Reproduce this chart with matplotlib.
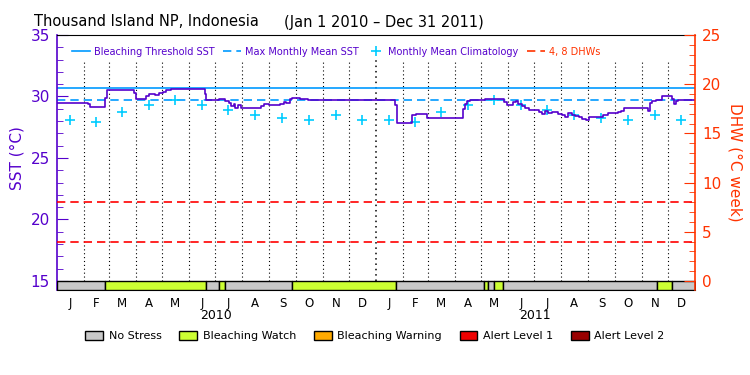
import numpy as np
import matplotlib
matplotlib.use('Agg')
import matplotlib.pyplot as plt
import matplotlib.dates as mdates
from matplotlib.ticker import MultipleLocator
from matplotlib.patches import Patch
from matplotlib.lines import Line2D

purple = '#5500cc'
orange = '#ff3300'
blue = '#0099ff'
cyan = '#00ccff'

# daily SST (date, value)
sst_dates = ['2010-01-01', '2010-02-05', '2010-02-08', '2010-02-25', '2010-02-27', '2010-03-30',
             '2010-04-01', '2010-04-13', '2010-04-16', '2010-04-23', '2010-04-28', '2010-05-02',
             '2010-05-06', '2010-05-12', '2010-06-19', '2010-06-21', '2010-07-05', '2010-07-12',
             '2010-07-17', '2010-07-19', '2010-07-22', '2010-07-24', '2010-07-27', '2010-07-30',
             '2010-08-22', '2010-08-26', '2010-09-01', '2010-09-13', '2010-09-18', '2010-09-20',
             '2010-09-22', '2010-09-25', '2010-09-27', '2010-10-06', '2010-10-15',
             '2011-01-23', '2011-01-25', '2011-02-11', '2011-02-16', '2011-02-28', '2011-04-10',
             '2011-04-13', '2011-04-15', '2011-04-18', '2011-04-28', '2011-05-06', '2011-05-13',
             '2011-05-17', '2011-05-28', '2011-05-31', '2011-06-07', '2011-06-10', '2011-06-13',
             '2011-06-17', '2011-06-21', '2011-06-25', '2011-07-06', '2011-07-10', '2011-07-13',
             '2011-07-17', '2011-07-21', '2011-07-28', '2011-08-02', '2011-08-05', '2011-08-09',
             '2011-08-13', '2011-08-17', '2011-08-21', '2011-08-25', '2011-08-29', '2011-09-02',
             '2011-09-06', '2011-09-18', '2011-09-24', '2011-10-01', '2011-10-05', '2011-10-08',
             '2011-10-12', '2011-11-08', '2011-11-10', '2011-11-13', '2011-11-17', '2011-11-24',
             '2011-12-06', '2011-12-08', '2011-12-10', '2011-12-13', '2012-01-01']
sst_vals = [29.50, 29.35, 29.18, 29.90, 30.49, 30.30,
            29.78, 30.00, 30.18, 30.10, 30.25, 30.35,
            30.54, 30.62, 30.20, 29.72, 29.80, 29.67,
            29.45, 29.23, 29.35, 29.10, 29.30, 29.10,
            29.25, 29.39, 29.29, 29.39, 29.59, 29.45,
            29.50, 29.78, 29.88, 29.80, 29.75,
            29.30, 27.82, 28.47, 28.55, 28.22, 28.96,
            29.40, 29.64, 29.69, 29.72, 29.83, 29.76,
            29.83, 29.56, 29.31, 29.56, 29.64, 29.36,
            29.23, 29.10, 28.88, 28.74, 28.60, 28.78,
            28.62, 28.70, 28.60, 28.47, 28.36, 28.66,
            28.50, 28.42, 28.30, 28.14, 28.09, 28.33,
            28.36, 28.50, 28.69, 28.62, 28.74, 28.82,
            29.10, 28.82, 29.45, 29.64, 29.72, 30.00,
            29.80, 29.37, 29.64, 29.72, 29.72]

mmm = 29.72
threshold = 30.72
clim_vals = [28.09, 27.92, 28.77, 29.31, 29.72, 29.31, 28.90, 28.52, 28.25, 28.09, 28.47, 28.09]
dhw_levels = [4, 8]

stress_breaks = ['2010-01-01', '2010-02-25', '2010-06-21', '2010-07-05', '2010-07-12', '2010-09-27',
                 '2011-01-24', '2011-05-05', '2011-05-09', '2011-05-16', '2011-05-26', '2011-11-18',
                 '2011-12-06', '2012-01-01']
stress_level = [0, 1, 0, 1, 0, 1, 0, 1, 0, 1, 0, 1, 0]
stress_names = ['No Stress', 'Bleaching Watch', 'Bleaching Warning', 'Alert Level 1', 'Alert Level 2']
stress_colors = ['#c8c8c8', '#ccff33', '#ffaa00', '#ee0000', '#990000']

month_letters = ['J', 'F', 'M', 'A', 'M', 'J', 'J', 'A', 'S', 'O', 'N', 'D']
years = ['2010', '2011']

month_starts = np.arange(np.datetime64('2010-01'), np.datetime64('2012-02'), np.timedelta64(1, 'M')).astype('datetime64[D]')
month_mid = month_starts[:-1] + (month_starts[1:] - month_starts[:-1]) / 2
mstart = mdates.date2num(month_starts)
mmid = mdates.date2num(month_mid)

fig = plt.figure(figsize=(7.5, 3.75), dpi=100)
ax = fig.add_axes([57 / 750, 1 - 290 / 375, 638 / 750, 255 / 375])
ax.set_xlim(mstart[0], mstart[24])
ax.set_ylim(14.265, 35)
ax2 = ax.twinx()
ax2.set_ylim(-0.918, 25)

# month grid, kept clear of the legend row
for i, x in enumerate(mstart[1:24], start=1):
    ax.plot([x, x], [15, 33], color='k', lw=1.1 if i == 12 else 0.8, ls=(0, (1, 2.5)), zorder=1)

ax.axhline(threshold, color=blue, lw=1.2, zorder=2)
ax.axhline(mmm, color=blue, lw=1.2, ls=(0, (5, 3)), zorder=2)
for lv in dhw_levels:
    ax2.axhline(lv, color='#ff0000', lw=1.2, ls=(0, (5, 3)))

ax.plot(mmid, clim_vals * 2, ls='none', marker='+', ms=7, mew=1.2, color=cyan, zorder=3)
sd = mdates.date2num(np.array(sst_dates, dtype='datetime64[D]'))
ax.step(sd, sst_vals, where='post', color=purple, lw=1.2, zorder=4)

sb = mdates.date2num(np.array(stress_breaks, dtype='datetime64[D]'))
for a, b, lv in zip(sb[:-1], sb[1:], stress_level):
    ax.broken_barh([(a, b - a)], (14.265, 0.735), facecolors=stress_colors[lv], edgecolors='k', lw=1, zorder=5)

ax.spines['left'].set_color(purple)
ax.spines['right'].set_visible(False)
for s in ['left', 'top', 'bottom']:
    ax2.spines[s].set_visible(False)
ax2.spines['right'].set_color(orange)
ax.spines['left'].set_linewidth(1.2)
ax2.spines['right'].set_linewidth(1.2)

ax.yaxis.set_major_locator(MultipleLocator(5))
ax.yaxis.set_minor_locator(MultipleLocator(1))
ax.tick_params(axis='y', which='both', direction='in', colors=purple, labelsize=11, pad=5)
ax.tick_params(axis='y', which='major', length=8)
ax.tick_params(axis='y', which='minor', length=4)
ax2.yaxis.set_major_locator(MultipleLocator(5))
ax2.yaxis.set_minor_locator(MultipleLocator(1))
ax2.tick_params(axis='y', which='both', direction='in', colors=orange, labelsize=11, pad=5)
ax2.tick_params(axis='y', which='major', length=8)
ax2.tick_params(axis='y', which='minor', length=4)

ax.set_xticks(mmid[:24])
ax.set_xticklabels(month_letters * 2, fontsize=8.5)
ax.tick_params(axis='x', length=0, pad=5)
for k, yr in enumerate(years):
    ax.text(mdates.date2num(np.datetime64(yr + '-07-02')), -0.1, yr, transform=ax.get_xaxis_transform(),
            ha='center', va='center', fontsize=9)

fig.text(259 / 750, 1 - 22 / 375, 'Thousand Island NP, Indonesia', fontsize=10.5, va='center', ha='right')
fig.text(284 / 750, 1 - 22 / 375, '(Jan 1 2010 \u2013 Dec 31 2011)', fontsize=10.5, va='center', ha='left')
fig.text(17 / 750, 1 - 158 / 375, 'SST (\u00b0C)', rotation=90, color=purple, fontsize=11, ha='center', va='center')
fig.text(735 / 750, 1 - 162 / 375, 'DHW (\u00b0C week)', rotation=270, color=orange, fontsize=11, ha='center', va='center')

handles = [Line2D([], [], color=blue, lw=1.2),
           Line2D([], [], color=blue, lw=1.2, ls=(0, (5, 3))),
           Line2D([], [], color=cyan, ls='none', marker='+', ms=7, mew=1.2),
           Line2D([], [], color='#ff3300', lw=1.2, ls=(0, (5, 3)))]
labels = ['Bleaching Threshold SST', 'Max Monthly Mean SST', 'Monthly Mean Climatology', '4, 8 DHWs']
ax2.legend(handles, labels, loc='upper left', bbox_to_anchor=(0.012, 0.985), ncol=4, frameon=False,
           fontsize=7, handlelength=1.8, columnspacing=0.9, handletextpad=0.4,
           labelcolor=[purple, purple, purple, orange], borderaxespad=0.4)

sh = [Patch(facecolor=c, edgecolor='k', lw=1) for c in stress_colors]
fig.legend(sh, stress_names, loc='center', bbox_to_anchor=(0.5, 1 - 336 / 375), ncol=5, frameon=False,
           fontsize=8, handlelength=1.6, handleheight=0.9, columnspacing=1.6, handletextpad=0.5)

fig.savefig('out.png', dpi=100)
